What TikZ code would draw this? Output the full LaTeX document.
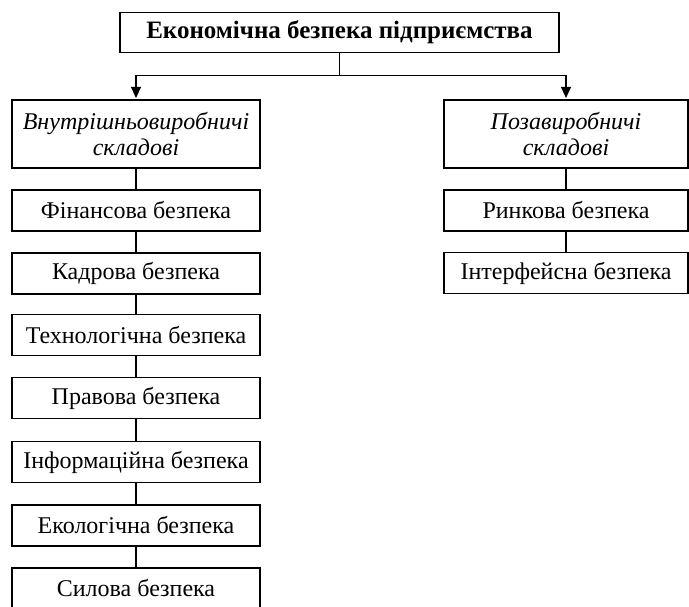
\documentclass[tikz,border=0pt]{standalone}
\usepackage{fontspec}
\setmainfont{Liberation Serif}
\usetikzlibrary{arrows.meta,calc}
\begin{document}
\begin{tikzpicture}[x=1pt,y=1pt,
  box/.style={draw, line width=1.1pt, rectangle, inner sep=0pt, align=center,
    font=\fontsize{24}{25.5}\selectfont},
  lbox/.style={box, minimum width=248pt, minimum height=41pt},
  rbox/.style={box, minimum width=244pt, minimum height=41pt},
  grp/.style={minimum height=68pt, font=\fontsize{24}{25.5}\selectfont\itshape},
  link/.style={line width=1.1pt},
  arr/.style={line width=1.1pt, -{Triangle[length=11pt,width=10pt]}, shorten >=1.5pt}]
\useasboundingbox (0,0) rectangle (689,-606);
\node[box, minimum width=439pt, minimum height=40pt,
  font=\fontsize{25}{27}\selectfont\bfseries] (top) at (339.5,-32.5) {Економічна безпека підприємства};
\node[lbox, grp] (lg) at (136,-134) {Внутрішньовиробничі\\складові};
\node[rbox, grp] (rg) at (566,-134) {Позавиробничі\\складові};
\node[lbox] (l1) at (136,-210.5) {Фінансова безпека};
\node[lbox] (l2) at (136,-273.5) {Кадрова безпека};
\node[lbox] (l3) at (136,-335) {Технологічна безпека};
\node[lbox] (l4) at (136,-398) {Правова безпека};
\node[lbox] (l5) at (136,-462) {Інформаційна безпека};
\node[lbox] (l6) at (136,-525.5) {Екологічна безпека};
\node[lbox] (l7) at (136,-588.5) {Силова безпека};
\node[rbox] (r1) at (566,-210.5) {Ринкова безпека};
\node[rbox] (r2) at (566,-273) {Інтерфейсна безпека};
\coordinate (j) at ($(top.south)+(0,-22.5)$);
\draw[link] (top.south) -- (j);
\draw[arr] (j) -| (lg.north);
\draw[arr] (j) -| (rg.north);
\draw[link] (lg.south) -- (l1.north);
\draw[link] (l1.south) -- (l2.north);
\draw[link] (l2.south) -- (l3.north);
\draw[link] (l3.south) -- (l4.north);
\draw[link] (l4.south) -- (l5.north);
\draw[link] (l5.south) -- (l6.north);
\draw[link] (l6.south) -- (l7.north);
\draw[link] (rg.south) -- (r1.north);
\draw[link] (r1.south) -- (r2.north);
\end{tikzpicture}
\end{document}
